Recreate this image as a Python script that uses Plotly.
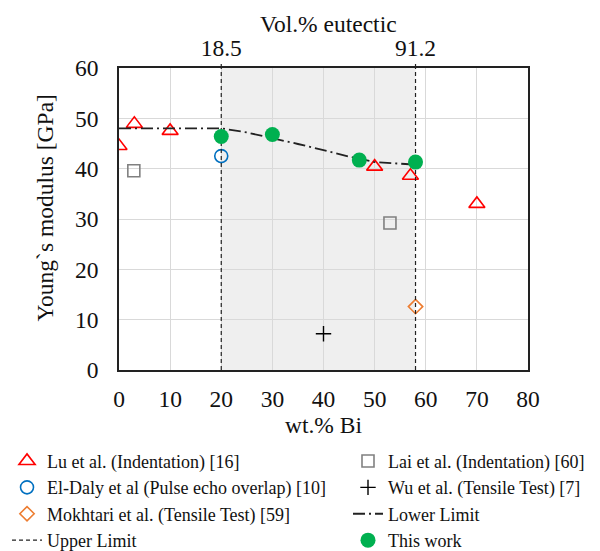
import plotly.graph_objects as go

# Data
lu_x = [0, 3, 10, 50, 57, 70]
lu_y = [44.5, 48.9, 47.5, 40.4, 38.6, 33.0]
lai_x = [2.9, 53]
lai_y = [39.6, 29.2]
eldaly_x = [20]
eldaly_y = [42.5]
wu_x = [40]
wu_y = [7.2]
mokh_x = [58]
mokh_y = [12.6]
lower_x = [0, 10, 20, 25, 30, 35, 40, 45, 50, 55, 58]
lower_y = [48.0, 48.0, 48.0, 47.2, 46.1, 44.9, 43.7, 42.4, 41.3, 41.0, 40.8]
this_x = [20, 30, 47, 58]
this_y = [46.4, 46.8, 41.7, 41.3]
limits_wt = [20, 58]
limits_vol = ["18.5", "91.2"]
y_span = [0, 60]

FONT = "Liberation Serif"
AX = 23.5
CLEAR = "rgba(0,0,0,0)"

fig = go.Figure()

# Shaded eutectic region
fig.add_shape(type="rect", xref="x", yref="y", x0=limits_wt[0], x1=limits_wt[1],
              y0=y_span[0], y1=y_span[1], fillcolor="#efefef", line_width=0, layer="below")

fig.add_trace(go.Scatter(x=lu_x, y=lu_y, mode="markers", name="Lu et al. (Indentation) [16]", legend="legend",
                         marker=dict(symbol="triangle-up-open", size=14, color="#ff0000", line=dict(width=1.6))))
fig.add_trace(go.Scatter(x=lai_x, y=lai_y, mode="markers", name="Lai et al. (Indentation) [60]", legend="legend2",
                         marker=dict(symbol="square-open", size=12, color="#808080", line=dict(width=1.6))))
fig.add_trace(go.Scatter(x=eldaly_x, y=eldaly_y, mode="markers", name="El-Daly et al (Pulse echo overlap) [10]",
                         legend="legend",
                         marker=dict(symbol="circle-open", size=13, color="#0070c0", line=dict(width=1.6))))
fig.add_trace(go.Scatter(x=wu_x, y=wu_y, mode="markers", name="Wu et al. (Tensile Test) [7]", legend="legend2",
                         marker=dict(symbol="cross-thin-open", size=11, color="#000000",
                                     line=dict(width=1.4, color="#000000"))))
fig.add_trace(go.Scatter(x=mokh_x, y=mokh_y, mode="markers", name="Mokhtari et al. (Tensile Test) [59]",
                         legend="legend",
                         marker=dict(symbol="diamond-open", size=11, color="#ed7d31", line=dict(width=1.6))))
fig.add_trace(go.Scatter(x=lower_x, y=lower_y, mode="lines", name="Lower Limit", legend="legend2",
                         line=dict(color="#222222", width=1.8, dash="12px,4px,2px,4px")))
# Upper limit vertical dashed lines
ux, uy = [], []
for v in limits_wt:
    ux += [v, v, None]
    uy += [y_span[0], y_span[1], None]
fig.add_trace(go.Scatter(x=ux, y=uy, mode="lines", name="Upper Limit", legend="legend",
                         line=dict(color="#222222", width=1.2, dash="4px,3px")))
for v in limits_wt:
    fig.add_shape(type="line", xref="x", yref="paper", x0=v, x1=v, y0=1.0, y1=1.018,
                  line=dict(color="#222222", width=1.2, dash="4px,3px"))
fig.add_trace(go.Scatter(x=this_x, y=this_y, mode="markers", name="This work", legend="legend2",
                         marker=dict(symbol="circle", size=15, color="#00b050")))

# dummy trace for top axis
fig.add_trace(go.Scatter(x=limits_wt, y=[None, None], xaxis="x2", showlegend=False, hoverinfo="skip"))

leg_common = dict(orientation="v", yref="container", xref="container", xanchor="left", yanchor="top",
                  font=dict(size=18, family=FONT, color="#111111"), tracegroupgap=0, itemwidth=30,
                  bgcolor=CLEAR, y=0.1965)

fig.update_layout(
    width=600, height=551,
    margin=dict(l=119, r=72, t=68, b=181, autoexpand=False),
    paper_bgcolor="white", plot_bgcolor="white",
    font=dict(family=FONT, size=AX, color="#111111"),
    xaxis=dict(range=[0, 80], dtick=10, showgrid=True, gridcolor="#d9d9d9", gridwidth=1,
               showline=True, linecolor="#222222", linewidth=1.5, mirror=True,
               ticks="outside", ticklen=7, tickcolor=CLEAR,
               zeroline=False, automargin=True,
               title=dict(text="wt.% Bi", font=dict(size=AX, family=FONT), standoff=2),
               tickfont=dict(size=AX, family=FONT)),
    xaxis2=dict(range=[0, 80], overlaying="x", side="top", tickvals=limits_wt, ticktext=limits_vol,
                showgrid=False, zeroline=False, ticks="", showline=False, automargin=False,
                ticklabelstandoff=6, tickfont=dict(size=AX, family=FONT)),
    yaxis=dict(range=[0, 60], dtick=10, showgrid=True, gridcolor="#d9d9d9", gridwidth=1,
               showline=True, linecolor="#222222", linewidth=1.5, mirror=True,
               ticks="outside", ticklen=14, tickcolor=CLEAR,
               zeroline=False, automargin=False,
               tickfont=dict(size=AX, family=FONT)),
    annotations=[
        dict(text="Young`s modulus [GPa]", xref="paper", yref="paper", x=-0.181, y=0.538,
             xanchor="center", yanchor="middle", textangle=-90, showarrow=False,
             font=dict(size=AX, family=FONT, color="#111111")),
        dict(text="Vol.% eutectic", xref="paper", yref="paper", x=0.513, y=1.146,
             xanchor="center", yanchor="middle", showarrow=False,
             font=dict(size=AX, family=FONT, color="#111111")),
    ],
    legend=dict(leg_common, x=0.0117),
    legend2=dict(leg_common, x=0.58),
    showlegend=True,
)

fig.write_html("out.html", config={"displayModeBar": False},
               post_script="document.body.style.margin='0';")
